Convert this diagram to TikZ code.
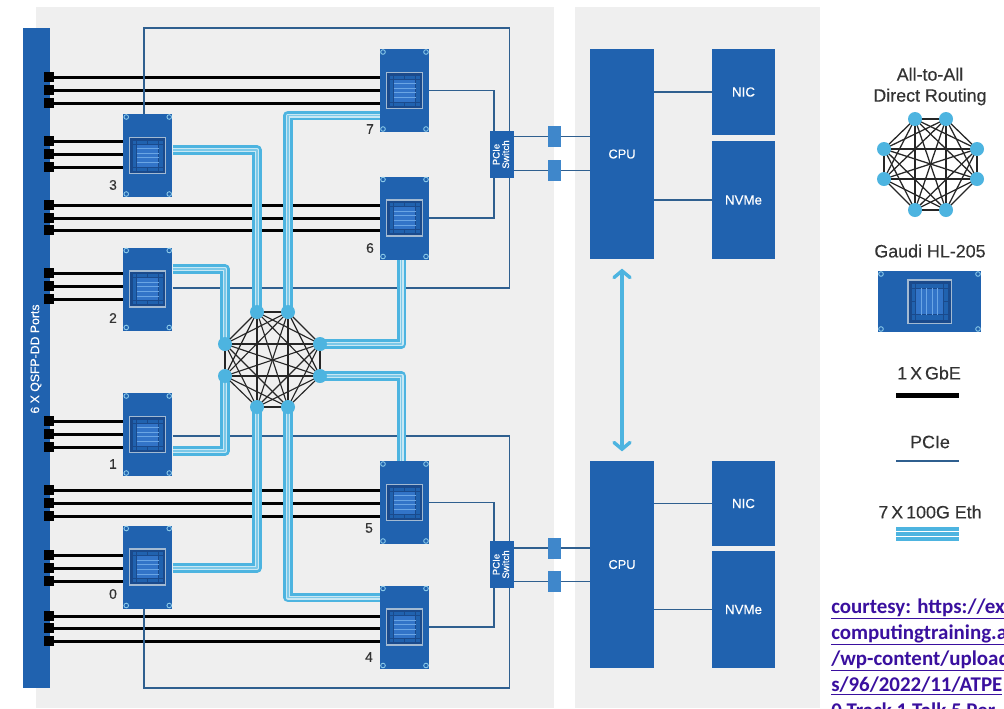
\documentclass[tikz,border=0pt]{standalone}
\usepackage{fontspec}
\setmainfont{Liberation Sans}
\newfontfamily\carl{Carlito}
\newfontfamily\medf[FakeBold=0.25]{Liberation Sans}
\usetikzlibrary{calc,arrows.meta}
\pgfdeclarelayer{panels}
\pgfdeclarelayer{links}
\pgfsetlayers{panels,links,main}
\definecolor{panelgray}{HTML}{EFEFEF}
\definecolor{hlblue}{HTML}{2062AF}
\definecolor{smallblue}{HTML}{3F87CB}
\definecolor{pcieline}{HTML}{2F5F8F}
\definecolor{cy}{HTML}{4DB4E0}
\definecolor{cylight}{HTML}{C8E8F4}
\definecolor{cymid}{HTML}{7CC8E8}
\definecolor{linkpurple}{HTML}{3A109F}
\definecolor{labelgray}{HTML}{333333}
\definecolor{chipdark}{HTML}{1A4A8C}
\definecolor{chipmid}{HTML}{3274C8}
\definecolor{chipstripe}{HTML}{6AA5E4}
\definecolor{chipline}{HTML}{A3BAD2}
\definecolor{chiphole}{HTML}{8CCBEA}
\tikzset{
  panel/.style={fill=panelgray,draw=none},
  bluebox/.style={fill=hlblue,draw=none,inner sep=0pt,text=white,font=\medf\fontsize{10}{12}\selectfont,align=center},
  chipbox/.style={bluebox,minimum width=36.75pt,minimum height=62.25pt},
  port/.style={fill=black,draw=none,minimum width=7.5pt,minimum height=7.5pt,inner sep=0pt},
  swbox/.style={bluebox,minimum width=18pt,minimum height=35.25pt},
  smallbox/.style={fill=smallblue,draw=none,minimum width=9.75pt,minimum height=15.75pt,inner sep=0pt},
  gbe/.style={draw=black,line width=2.25pt},
  pcie/.style={draw=pcieline,line width=1pt},
  eth/.style={draw=cy,line width=7pt,line join=round,
     postaction={draw=cylight,line width=3pt},
     postaction={draw=cymid,line width=1pt}},
  meshline/.style={draw=black!85,line width=0.85pt},
  dot/.style={circle,fill=cy,draw=none,minimum size=10.5pt,inner sep=0pt},
  legdot/.style={circle,fill=cy,draw=none,minimum size=10.5pt,inner sep=0pt},
  chiplabel/.style={text=labelgray,font=\medf\fontsize{10.4}{12}\selectfont,inner sep=0pt},
  legtext/.style={text=labelgray,font=\medf\fontsize{13.4}{15.75}\selectfont,align=center,inner sep=0pt},
  linktext/.style={anchor=base west,inner sep=0pt,text=linkpurple,font=\carl\bfseries\fontsize{15.7}{18}\selectfont},
}
% name, half width, half height, rotation, scale
\newcommand{\chipbits}[5]{%
  \begin{scope}[shift={(#1.center)}]
    \foreach \sx in {-1,1} \foreach \sy in {-1,1}
      \draw[chiphole,line width=0.65pt] ({\sx*(#2-3)},{\sy*(#3-3)}) circle (2.3);
    \begin{scope}[rotate=#4,scale=#5]
      \draw[chipline,line width=0.9pt,fill=chipdark] (-18,-18) rectangle (18,18);
      \fill[hlblue] (-15,-15) rectangle (15,15);
      \fill[chipmid] (-11,-11.5) rectangle (11,11.5);
      \draw[chipdark,line width=0.7pt] (-11,-15) -- (-11,15) (11,-15) -- (11,15)
         (-15,-11.5) -- (15,-11.5) (-15,11.5) -- (15,11.5) (0,-16) -- (0,-11.5) (0,11.5) -- (0,16);
      \foreach \yy in {-7,-2.4,2.4,7}
        \draw[chipstripe,line width=0.7pt] (-11,\yy) -- (11,\yy);
    \end{scope}
  \end{scope}}
\begin{document}
\begin{tikzpicture}[x=0.75pt,y=-0.75pt]
\useasboundingbox (0,0) rectangle (1004,708);
\clip (0,0) rectangle (1004,708);
\begin{pgfonlayer}{panels}
  \fill[white] (0,0) rectangle (1004,708);
  \fill[panel] (36,7) rectangle (554,708);
  \fill[panel] (575,7) rectangle (820,708);
\end{pgfonlayer}

% QSFP bar
\node[bluebox,minimum width=20.25pt,minimum height=495pt] (bar) at (36.5,358) {};
\node[text=white,rotate=90,inner sep=0pt,font=\medf\fontsize{9.2}{11}\selectfont] (barlabel) at (36,359) {6 X QSFP-DD Ports};

% chips
\foreach \n/\cx/\cy in {c3/147.75/155.5,c2/147.75/289,c1/147.75/434.5,c0/147.75/567,
                        c7/404.5/90.5,c6/404.5/218,c5/404.5/502.5,c4/404.5/627}{
  \node[chipbox] (\n) at (\cx,\cy) {};
  \chipbits{\n}{24.5}{41.5}{0}{1}
}
\node[chiplabel] (l3) at (113,185) {3};
\node[chiplabel] (l2) at (113,318) {2};
\node[chiplabel] (l1) at (113,464) {1};
\node[chiplabel] (l0) at (113,594) {0};
\node[chiplabel] (l7) at (370,129) {7};
\node[chiplabel] (l6) at (370,248) {6};
\node[chiplabel] (l5) at (369,528) {5};
\node[chiplabel] (l4) at (369,657) {4};

% right-hand boxes
\node[bluebox,minimum width=48pt,minimum height=157.5pt,font=\medf\fontsize{9.6}{12}\selectfont] (cpu1) at (622,154) {CPU};
\node[bluebox,minimum width=48pt,minimum height=155.25pt,font=\medf\fontsize{9.6}{12}\selectfont] (cpu2) at (622,564.5) {CPU};
\node[bluebox,minimum width=47.25pt,minimum height=64.5pt] (nic1) at (743.5,92) {NIC};
\node[bluebox,minimum width=47.25pt,minimum height=88.5pt] (nvme1) at (743.5,200) {NVMe};
\node[bluebox,minimum width=47.25pt,minimum height=63.75pt] (nic2) at (743.5,503.5) {NIC};
\node[bluebox,minimum width=47.25pt,minimum height=87.75pt] (nvme2) at (743.5,609.5) {NVMe};

% PCIe switches
\node[swbox,font=\medf\fontsize{7.2}{8.6}\selectfont] (sw1) at (502,154.5) {\rotatebox{90}{\begin{tabular}{@{}c@{}}PCIe\\[-1.5pt]Switch\end{tabular}}};
\node[swbox,font=\medf\fontsize{7.2}{8.6}\selectfont] (sw2) at (502,564.5) {\rotatebox{90}{\begin{tabular}{@{}c@{}}PCIe\\[-1.5pt]Switch\end{tabular}}};
\node[smallbox] (q1) at (554.5,136.5) {};
\node[smallbox] (q2) at (554.5,170.5) {};
\node[smallbox] (q3) at (554.5,548) {};
\node[smallbox] (q4) at (554.5,581.5) {};

% mesh dots
\foreach \k/\px/\py in {1/257/312,2/288/312,3/320/344,4/320/376,5/288/407,6/257/407,7/225/376,8/225/344}
  \node[dot] (n\k) at (\px,\py) {};

% black GbE links
\foreach \y/\t in {77/c7,90/c7,103/c7,141/c3,154/c3,167/c3,205/c6,218/c6,230/c6,
                   273/c2,286/c2,299/c2,421/c1,434/c1,447/c1,490/c5,503/c5,516/c5,
                   555/c0,568/c0,581/c0,616/c4,628/c4,641/c4}{
  \node[port] (p\y) at (49,\y) {};
  \begin{pgfonlayer}{links}
    \draw[gbe] (p\y) -- (p\y -| \t.west);
  \end{pgfonlayer}
}

\coordinate (topbus) at (509.5,28);
\coordinate (botbus) at (509.5,688);

\begin{pgfonlayer}{links}
  % PCIe
  \draw[pcie] ($(c3.north)+(-3.75,0)$) |- (topbus) -- ($(sw1.north)+(7.5,0)$);
  \draw[pcie] ($(c2.east)+(0,-1)$) -| ($(sw1.south)+(7.5,0)$);
  \draw[pcie] (c7.east) -| ($(sw1.north)+(-8,0)$);
  \draw[pcie] (c6.east) -| ($(sw1.south)+(-8,0)$);
  \draw[pcie] ($(c1.east)+(0,1.5)$) -| ($(sw2.north)+(7.5,0)$);
  \draw[pcie] ($(c0.south)+(-3.75,0)$) |- (botbus) -- ($(sw2.south)+(7.5,0)$);
  \draw[pcie] (c5.east) -| ($(sw2.north)+(-8,0)$);
  \draw[pcie] (c4.east) -| ($(sw2.south)+(-8,0)$);
  \foreach \q/\s/\c in {q1/sw1/cpu1,q2/sw1/cpu1,q3/sw2/cpu2,q4/sw2/cpu2}{
    \draw[pcie] (\q -| \s.east) -- (\q);
    \draw[pcie] (\q) -- (\q -| \c.west);
  }
  \draw[pcie] (nic1.west) -- (nic1.west -| cpu1.east);
  \draw[pcie] (nvme1.west) -- (nvme1.west -| cpu1.east);
  \draw[pcie] (nic2.west) -- (nic2.west -| cpu2.east);
  \draw[pcie] (nvme2.west) -- (nvme2.west -| cpu2.east);

  % 7 x 100G buses
  \draw[eth] ($(c3.east)+(0,-5.5)$) -| (n1.center);
  \draw[eth] ($(c2.east)+(0,-20)$) -| (n8.center);
  \draw[eth] ($(c1.east)+(0,16.5)$) -| (n7.center);
  \draw[eth] ($(c0.east)+(0,1)$) -| (n6.center);
  \draw[eth] ($(c7.west)+(0,25)$) -| (n2.center);
  \draw[eth] ($(c6.south)+(-3,0)$) |- (n3.center);
  \draw[eth] ($(c5.north)+(-3,0)$) |- (n4.center);
  \draw[eth] ($(c4.west)+(0,-29.5)$) -| (n5.center);

  % mesh
  \foreach \i in {1,...,7}{
    \pgfmathtruncatemacro\nxt{\i+1}
    \foreach \j in {\nxt,...,8}
      \draw[meshline] (n\i.center) -- (n\j.center);
  }

  % CPU to CPU arrow
  \draw[cy,line width=2.6pt,{Straight Barb[length=5pt,width=12pt,line cap=round]}-{Straight Barb[length=5pt,width=12pt,line cap=round]},shorten <=7pt,shorten >=7pt] (cpu1.south) -- (cpu2.north);
\end{pgfonlayer}

% legend
\node[legtext] (legA) at (930,86.5) {All-to-All\\Direct Routing};
\foreach \k/\px/\py in {1/915/119,2/946/119,3/977/149,4/977/179,5/946/210,6/915/210,7/884/179,8/884/149}
  \node[legdot] (m\k) at (\px,\py) {};
\begin{pgfonlayer}{links}
  \foreach \i in {1,...,7}{
    \pgfmathtruncatemacro\nxt{\i+1}
    \foreach \j in {\nxt,...,8}
      \draw[meshline,line width=0.95pt] (m\i.center) -- (m\j.center);
  }
\end{pgfonlayer}
\node[legtext] (legG) at (930,251) {Gaudi HL-205};
\node[bluebox,minimum width=77.25pt,minimum height=45.75pt] (legchip) at (929.5,301.5) {};
\chipbits{legchip}{51.5}{30.5}{90}{1.2}
\node[legtext] (leg1) at (929,373) {1\,X\,GbE};
\coordinate (g1) at (896,395.5); \coordinate (g2) at (959,395.5);
\draw[draw=black,line width=3.4pt] (g1) -- (g2);
\node[legtext] (legP) at (930,442) {PCIe};
\coordinate (h1) at (896,461); \coordinate (h2) at (959,461);
\draw[pcie,line width=1.7pt] (h1) -- (h2);
\node[legtext] (legE) at (930,512) {7\,X\,100G Eth};
\foreach \yy in {529,534,539}{
  \coordinate (e1) at (896,\yy); \coordinate (e2) at (959,\yy);
  \draw[cy,line width=2.6pt] (e1) -- (e2);
}

% source text, cut by the image edge
\node[linktext] (t1) at (831,613) {\underline{courtesy: https://ex}};
\node[linktext] (t2) at (831,639) {\underline{computingtraining.a}};
\node[linktext] (t3) at (831,665) {\underline{/wp-content/upload}};
\node[linktext] (t4) at (831,691) {\underline{s/96/2022/11/ATPE}};
\node[linktext] (t5) at (831,717) {\underline{0 Track 1 Talk 5 Per}};
\end{tikzpicture}
\end{document}
